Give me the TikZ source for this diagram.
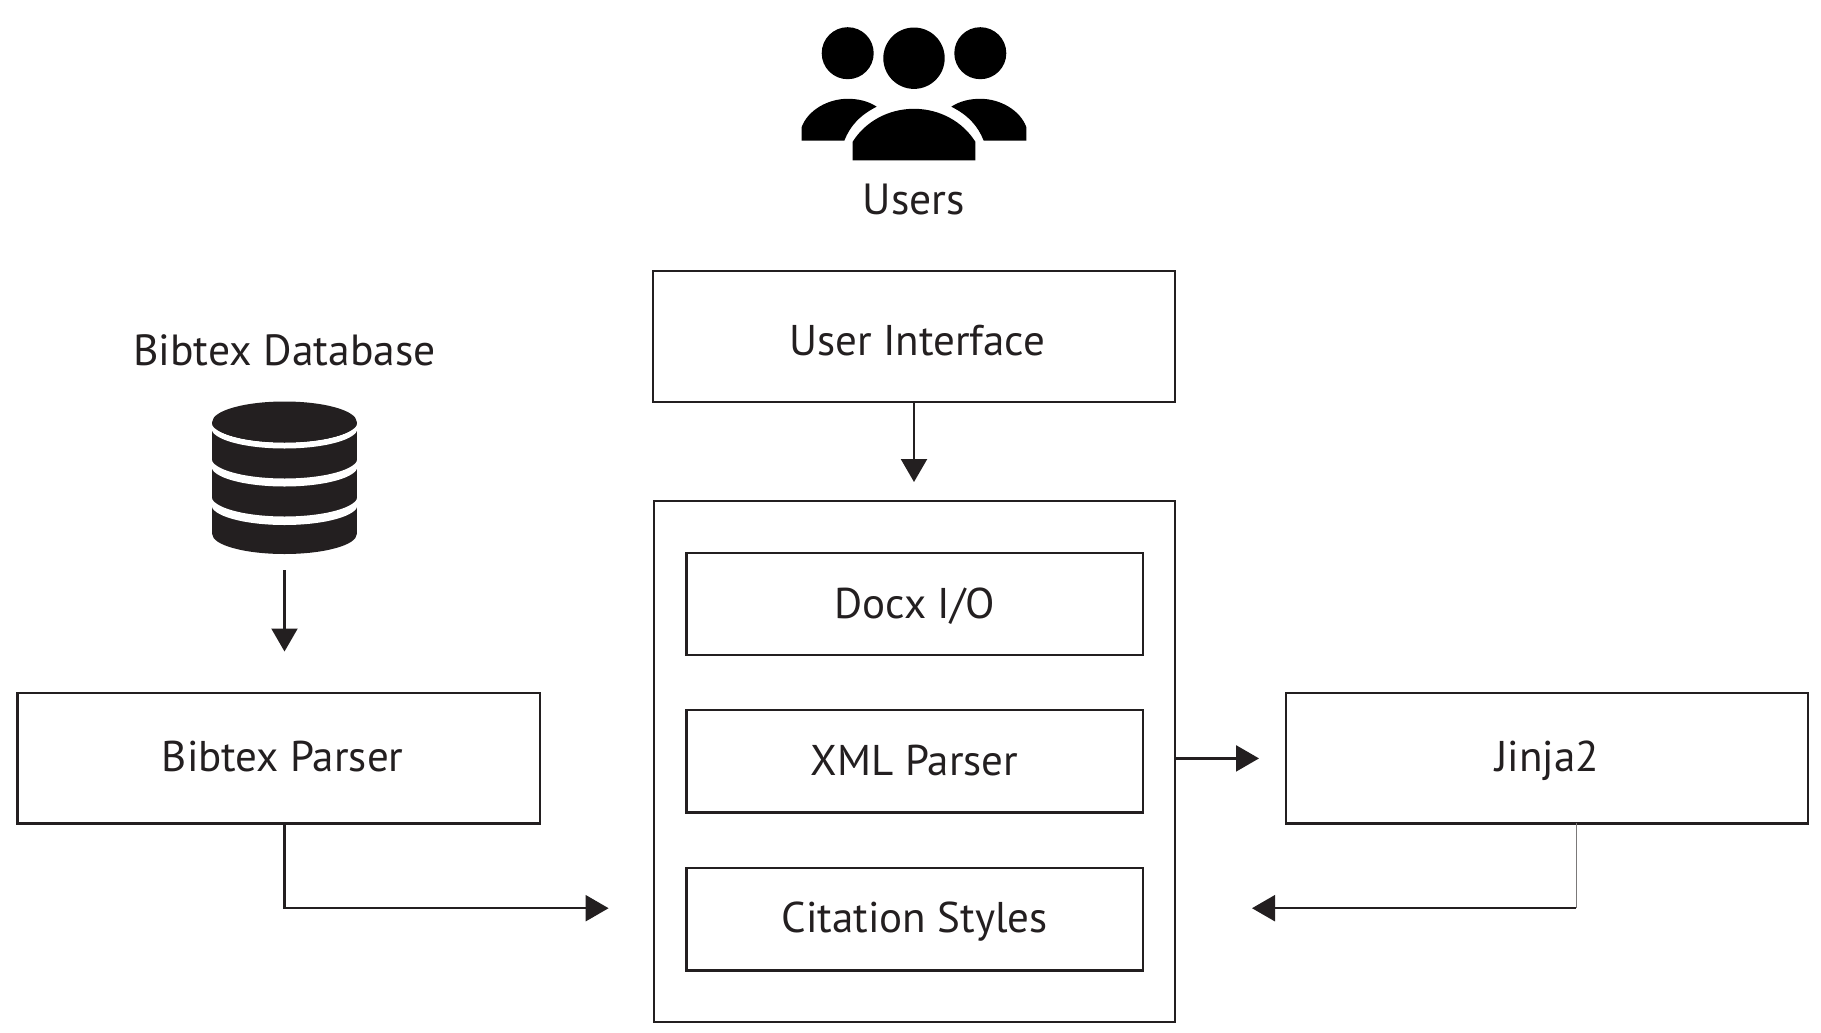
\documentclass[tikz,border=0pt]{standalone}
\usepackage{fontspec}
\setmainfont{PT Sans}
\usetikzlibrary{arrows.meta,calc}
\definecolor{ink}{HTML}{231F20}
\tikzset{
  labeltext/.style={font=\fontsize{21.8}{25}\selectfont,text=ink,inner sep=0pt,anchor=base},
  boxnode/.style={draw=ink,line width=1.15pt,fill=white,inner sep=0pt,outer sep=0pt,anchor=north west,align=center,
     font=\fontsize{21.5}{25}\selectfont,text=ink},
  link/.style={draw=ink,line width=1.1pt,-{Triangle[length=11.5pt,width=13pt,color=ink]}},
  band/.style={fill=white},
}
\begin{document}
\begin{tikzpicture}[x=0.5pt,y=-0.5pt]
\useasboundingbox (0,0) rectangle (1821,1033);
\fill[white] (0,0) rectangle (1821,1033);
% Users icon
\fill[black] (847.7,53.2) circle[radius=26];
\fill[black] (914,58.2) circle[radius=30.7];
\fill[black] (980.3,53.2) circle[radius=26];
\fill[black] (852.7,160.3) -- (852.7,141.7) .. controls (865,122) and (888,108.8) .. (914,108.8)
  .. controls (940,108.8) and (963,122) .. (975.3,141.7) -- (975.3,160.3) -- cycle;
\fill[black] (801.7,140.7) -- (801.7,127) .. controls (808,110) and (828,98.8) .. (847.7,98.8)
  .. controls (858,98.8) and (868,101) .. (876.7,106.7) .. controls (860,115) and (850,126) .. (844.3,140.7) -- cycle;
\fill[black] (1026.3,140.7) -- (1026.3,127) .. controls (1020,110) and (1000,98.8) .. (980.3,98.8)
  .. controls (970,98.8) and (960,101) .. (951.3,106.7) .. controls (968,115) and (978,126) .. (983.7,140.7) -- cycle;
\node[labeltext] (users) at (914,214) {Users};
% Database icon
\node[labeltext] (dbl) at (284.5,365) {Bibtex Database};
\fill[ink] (212.2,422) rectangle (356.8,534);
\fill[ink] (284.5,534) ellipse[x radius=72.3,y radius=20];
\fill[band] (211.2,422) arc[start angle=180,end angle=0,x radius=73.3,y radius=20.5] -- (357.8,428) arc[start angle=0,end angle=180,x radius=73.3,y radius=20.5] -- cycle;
\fill[band] (211.2,458) arc[start angle=180,end angle=0,x radius=73.3,y radius=20.5] -- (357.8,466) arc[start angle=0,end angle=180,x radius=73.3,y radius=20.5] -- cycle;
\fill[band] (211.2,496) arc[start angle=180,end angle=0,x radius=73.3,y radius=20.5] -- (357.8,504.5) arc[start angle=0,end angle=180,x radius=73.3,y radius=20.5] -- cycle;
\fill[ink] (284.5,422) ellipse[x radius=72.3,y radius=20.5];
% Boxes
\node[boxnode,minimum width=261.3pt,minimum height=65.3pt,text height=42.3pt,text depth=23pt] (ui) at (652.7,271.1) {\kern3pt User Interface};
\node[boxnode,minimum width=260.7pt,minimum height=260.4pt] (core) at (653.9,501) {};
\node[boxnode,minimum width=228.2pt,minimum height=50.7pt,text height=32.4pt,text depth=18.3pt] (docx) at (686.4,553.3) {Docx I/O};
\node[boxnode,minimum width=228.2pt,minimum height=51.2pt,text height=32.5pt,text depth=18.7pt] (xml) at (686.4,710.1) {XML Parser};
\node[boxnode,minimum width=228.2pt,minimum height=51.2pt,text height=32.1pt,text depth=19.1pt] (cite) at (686.4,868) {Citation Styles};
\node[boxnode,minimum width=261.3pt,minimum height=65.3pt,text height=39.3pt,text depth=26pt] (parser) at (17.4,692.8) {\kern4pt Bibtex Parser};
\node[boxnode,minimum width=261.3pt,minimum height=65.3pt,text height=39.3pt,text depth=26pt] (jinja) at (1285.7,692.8) {Jinja2};
% Connector ends
\coordinate (uitip) at (914,482);
\coordinate (dbstart) at (284.5,570);
\coordinate (dbtip) at (284.5,651.5);
\coordinate (pcorner) at (284.5,908.2);
\coordinate (ptip) at (608.6,908.2);
\coordinate (jstart) at (1175.3,758.4);
\coordinate (jtip) at (1259,758.4);
\coordinate (rcorner) at (1576,908.2);
\coordinate (rtip) at (1252,908.2);
% Connectors
\draw[link] (ui.south -| uitip) -- (uitip);
\draw[link] (dbstart) -- (dbtip);
\draw[link] (parser.south -| pcorner) -- (pcorner) -- (ptip);
\draw[link] (core.east |- jstart) -- (jtip);
\draw[ink!60,line width=0.5pt] (jinja.south -| rcorner) -- (rcorner);
\draw[link] (rcorner) -- (rtip);
\end{tikzpicture}
\end{document}
